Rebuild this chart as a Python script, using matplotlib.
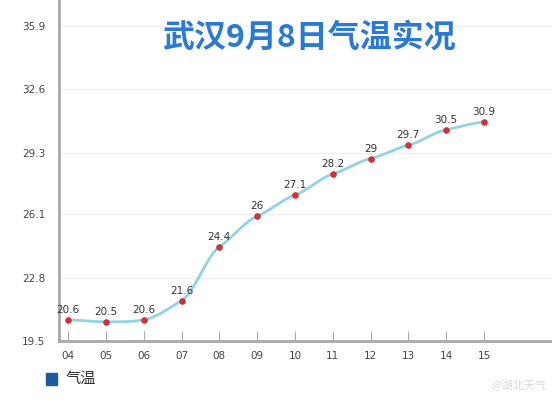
import numpy as np
import matplotlib
matplotlib.use('Agg')
import matplotlib.pyplot as plt
from matplotlib.patches import Rectangle

plt.rcParams['font.family'] = ['Noto Sans CJK SC', 'DejaVu Sans']

# données
heures = ['04', '05', '06', '07', '08', '09', '10', '11', '12', '13', '14', '15']
temperatures = [20.6, 20.5, 20.6, 21.6, 24.4, 26.0, 27.1, 28.2, 29.0, 29.7, 30.5, 30.9]
etiquettes = ['20.6', '20.5', '20.6', '21.6', '24.4', '26', '27.1', '28.2', '29', '29.7', '30.5', '30.9']
graduations_y = [19.5, 22.8, 26.1, 29.3, 32.6, 35.9]

titre = '武汉9月8日气温实况'
legende = '气温'
filigrane = '@湖北天气'

x = np.array([int(h) for h in heures], dtype=float)
y = np.array(temperatures)

fig = plt.figure(figsize=(5.52, 4.0), dpi=100)
ax = fig.add_axes([0.107, 0.1475, 0.893, 0.8525])

# courbe lissée (Catmull-Rom, tension réduite) entre les points
xs, ys = [], []
px = np.concatenate([[x[0]], x, [x[-1]]])
py = np.concatenate([[y[0]], y, [y[-1]]])
tension = 0.6
for i in range(1, len(px) - 2):
    t = np.linspace(0, 1, 20)
    p1, p2 = py[i], py[i + 1]
    m1 = tension * (py[i + 1] - py[i - 1]) / 2
    m2 = tension * (py[i + 2] - py[i]) / 2
    h00 = 2 * t ** 3 - 3 * t ** 2 + 1
    h10 = t ** 3 - 2 * t ** 2 + t
    h01 = -2 * t ** 3 + 3 * t ** 2
    h11 = t ** 3 - t ** 2
    ys.extend(h00 * p1 + h10 * m1 + h01 * p2 + h11 * m2)
    xs.extend(px[i] + (px[i + 1] - px[i]) * t)
ax.plot(xs, ys, color='#8fd4e6', lw=2, zorder=3)
ax.scatter(x, y, s=14, color='#d0303a', zorder=4)

for xi, yi, lab in zip(x, y, etiquettes):
    ax.text(xi, yi + 0.25, lab, ha='center', va='bottom', fontsize=7.5,
            color='#333333', family=['DejaVu Sans'], zorder=5)

ax.set_xlim(3.76, 16.8)
ax.set_ylim(19.5, 37.26)
ax.set_xticks(x)
ax.set_xticklabels(heures)
ax.set_yticks(graduations_y)
ax.set_yticklabels(['%.1f' % v for v in graduations_y])
ax.tick_params(axis='x', direction='in', length=7, color='#aaaaaa', labelsize=7.5,
               labelcolor='#444444', pad=7)
ax.tick_params(axis='y', length=0, labelsize=7.5, labelcolor='#444444', pad=10)
for lab in ax.get_xticklabels() + ax.get_yticklabels():
    lab.set_family(['DejaVu Sans'])

for t in graduations_y[1:]:
    ax.axhline(t, color='#f0f0f0', lw=1, zorder=1)

for s in ['top', 'right']:
    ax.spines[s].set_visible(False)
for s in ['left', 'bottom']:
    ax.spines[s].set_color('#a8a8a8')
    ax.spines[s].set_linewidth(2)

fig.text(0.562, 0.907, titre, ha='center', va='center', fontsize=23,
         fontweight='bold', color='#2a7ad4')

fig.patches.append(Rectangle((0.083, 0.038), 0.02, 0.03, transform=fig.transFigure,
                             color='#1e5aa0', figure=fig))
fig.text(0.118, 0.053, legende, ha='left', va='center', fontsize=11, color='#333333')
fig.text(0.99, 0.035, filigrane, ha='right', va='center', fontsize=8, color='#d8d8d8')

fig.savefig('out.png', dpi=100)
